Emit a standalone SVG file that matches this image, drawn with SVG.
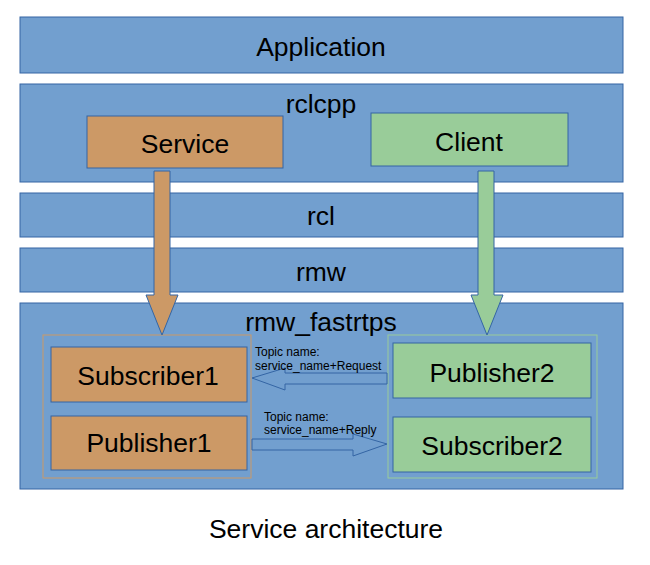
<svg xmlns="http://www.w3.org/2000/svg" width="650" height="565" viewBox="0 0 650 565">
<style>
.band{fill:#729fcf;stroke:#3465a4;stroke-width:1}
.org{fill:#cc9966;stroke:#3465a4;stroke-width:1}
.grn{fill:#99cc99;stroke:#3465a4;stroke-width:1}
.t{font-family:"Liberation Sans",Arial,sans-serif;font-size:26.5px;fill:#000;text-anchor:middle}
.s{font-family:"Liberation Sans",Arial,sans-serif;font-size:12px;fill:#000}
.arr{fill:#729fcf;stroke:#3465a4;stroke-width:1}
</style>
<rect width="650" height="565" fill="#fff"/>
<g id="application"><rect class="band" x="20" y="17" width="603" height="56"/><text class="t" x="321" y="56">Application</text></g>
<g id="rclcpp"><rect class="band" x="20" y="84" width="603" height="98"/><text class="t" x="321" y="113">rclcpp</text></g>
<g id="rcl"><rect class="band" x="20" y="193" width="603" height="44"/><text class="t" x="321" y="225">rcl</text></g>
<g id="rmw"><rect class="band" x="20" y="248" width="603" height="44"/><text class="t" x="321" y="281">rmw</text></g>
<g id="rmw_fastrtps"><rect class="band" x="20" y="303" width="603" height="186"/><text class="t" x="321" y="331">rmw_fastrtps</text></g>
<g id="left-group"><rect x="43" y="335" width="208" height="143" fill="none" stroke="#cc9966" stroke-width="1"/></g>
<g id="right-group"><rect x="388" y="335" width="209" height="143" fill="none" stroke="#99cc99" stroke-width="1"/></g>
<g id="service"><rect class="org" x="87" y="116" width="196" height="52"/><text class="t" x="185" y="153">Service</text></g>
<g id="client"><rect class="grn" x="371" y="113" width="197" height="53"/><text class="t" x="469" y="151">Client</text></g>
<g id="subscriber1"><rect class="org" x="51" y="347" width="196" height="55"/><text class="t" x="148" y="385">Subscriber1</text></g>
<g id="publisher1"><rect class="org" x="51" y="416" width="196" height="54"/><text class="t" x="149" y="452">Publisher1</text></g>
<g id="publisher2"><rect class="grn" x="393" y="343" width="198" height="55"/><text class="t" x="492" y="382">Publisher2</text></g>
<g id="subscriber2"><rect class="grn" x="393" y="417" width="198" height="55"/><text class="t" x="492" y="455">Subscriber2</text></g>
<g id="connectors">
<polygon fill="#cc9966" stroke="#3465a4" stroke-width="1" points="154,171 170,171 170,295 178,295 162,335 146,295 154,295"/>
<polygon fill="#99cc99" stroke="#3465a4" stroke-width="1" points="478,171 494,171 494,295 503,295 487,335 471,295 478,295"/>
<polygon class="arr" points="387,373 285,373 285,368 252,378 285,390 285,384 387,384"/>
<polygon class="arr" points="252,439 353,439 353,434 387,444 353,456 353,450 252,450"/>
<text class="s" x="255" y="356">Topic name:</text>
<text class="s" x="255" y="370">service_name+Request</text>
<text class="s" x="264" y="421">Topic name:</text>
<text class="s" x="264" y="434">service_name+Reply</text>
</g>
<text class="t" x="326" y="538">Service architecture</text>
</svg>
